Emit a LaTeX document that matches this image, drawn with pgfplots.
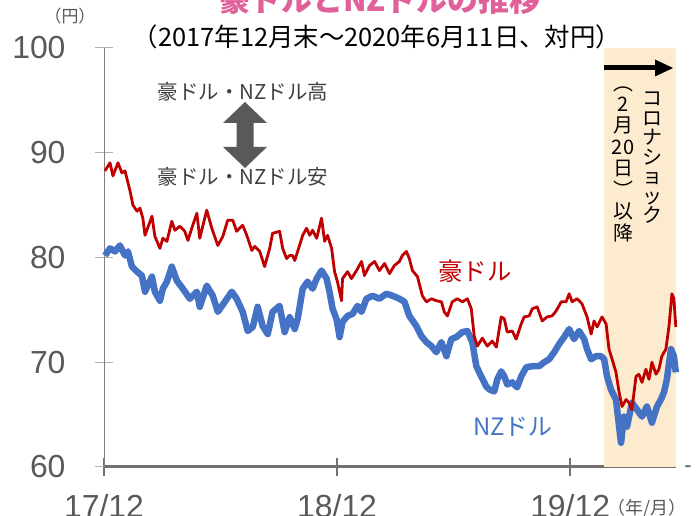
\documentclass[border=0pt]{standalone}
\usepackage{pgfplots}
\pgfplotsset{compat=1.18}
\usepackage{fontspec}
\setmainfont{Liberation Sans}
\newfontfamily\jp{Noto Sans CJK JP}
\definecolor{aud}{HTML}{C00000}
\definecolor{nzd}{HTML}{4472C4}
\definecolor{shade}{HTML}{FDEBCF}
\definecolor{titlepink}{HTML}{E0609A}
\definecolor{tickgray}{HTML}{595959}
\definecolor{axisgray}{HTML}{767171}
\definecolor{notegray}{HTML}{404040}
\definecolor{arrowgray}{HTML}{595959}
\begin{document}
\begin{tikzpicture}[x=1bp,y=1bp]
\useasboundingbox (0,0) rectangle (696,516);
\begin{axis}[
  at={(104bp,49bp)}, anchor=south west,
  scale only axis, width=572bp, height=419bp,
  xmin=0, xmax=29.45, ymin=60, ymax=100,
  clip=false,
  axis lines*=left,
  xtick={0,12,24}, xticklabels={17/12,18/12,19/12},
  ytick={60,70,80,90,100},
  tick align=center, major tick length=18bp,
  x axis line style={axisgray, line width=3bp},
  y axis line style={gray, line width=1bp},
  xtick style={axisgray, line width=1.5bp},
  ytick style={gray!60, line width=1bp},
  tick label style={font=\fontsize{32}{32}\selectfont, text=tickgray},
  /pgf/number format/assume math mode=true,
  yticklabel style={anchor=east, xshift=-26bp},
  xticklabel style={anchor=north, yshift=-15bp},
]
\addplot[draw=none, fill=shade] coordinates {(25.75,60) (25.75,100) (29.45,100) (29.45,60)};
\addplot[nzd, line width=6.5bp, line join=round] coordinates {
(0.05,80.19) (0.31,80.87) (0.57,80.58) (0.82,81.15) (1.08,80.19) (1.23,80.58)
(1.44,79.13) (1.70,78.65) (1.95,78.27) (2.11,76.73) (2.47,78.17) (2.62,76.73)
(2.88,75.87) (3.03,77.02) (3.24,77.69) (3.49,79.13) (3.75,77.79) (4.06,77.02)
(4.42,76.06) (4.78,76.73) (4.93,75.29) (5.29,77.31) (5.60,76.35) (5.86,74.81)
(6.22,75.77) (6.58,76.73) (6.83,76.06) (7.14,74.81) (7.40,72.98) (7.66,73.37)
(7.91,75.29) (8.17,73.46) (8.43,72.69) (8.68,74.81) (9.04,75.38) (9.30,72.88)
(9.56,74.30) (9.82,73.17) (9.97,74.13) (10.23,77.02) (10.48,77.69) (10.74,77.02)
(10.95,77.98) (11.20,78.75) (11.46,77.98) (11.61,76.73) (11.77,75.10) (11.97,74.13)
(12.13,72.40) (12.28,73.85) (12.54,74.42) (12.80,74.62) (13.05,75.38) (13.26,74.81)
(13.51,76.06) (13.82,76.35) (14.18,76.06) (14.54,76.54) (14.85,76.35) (15.21,76.06)
(15.47,75.77) (15.72,74.42) (16.08,73.46) (16.34,72.50) (16.60,71.92) (16.86,71.54)
(17.11,70.96) (17.37,71.92) (17.63,70.58) (17.88,72.21) (18.14,72.40) (18.45,72.88)
(18.71,72.98) (18.96,71.92) (19.17,69.62) (19.42,68.65) (19.68,67.69) (19.84,67.40)
(20.09,67.21) (20.25,68.37) (20.45,69.13) (20.61,68.65) (20.76,67.88) (21.02,68.08)
(21.27,67.60) (21.48,68.65) (21.74,69.52) (22.05,69.62) (22.40,69.62) (22.66,70.00)
(22.92,70.29) (23.18,70.96) (23.43,71.73) (23.69,72.40) (23.95,73.17) (24.20,72.21)
(24.46,72.98) (24.72,72.21) (24.87,71.25) (25.08,70.29) (25.33,70.58) (25.59,70.58)
(25.75,70.29) (25.90,68.65) (26.10,67.40) (26.36,66.44) (26.52,63.85) (26.62,62.31)
(26.77,64.81) (26.93,63.85) (27.18,66.15) (27.44,65.48) (27.70,64.81) (27.95,65.77)
(28.21,64.23) (28.47,65.77) (28.67,66.44) (28.83,67.12) (28.98,68.37) (29.19,71.25)
(29.34,70.58) (29.44,69.04)
};
\addplot[aud, line width=2.8bp, line join=round] coordinates {
(0.05,88.27) (0.31,89.04) (0.46,87.79) (0.72,89.04) (0.92,88.08) (1.08,88.27)
(1.34,86.35) (1.49,85.00) (1.70,84.42) (1.85,84.71) (2.00,83.75) (2.11,82.12)
(2.47,83.94) (2.62,82.02) (2.88,80.87) (3.03,81.83) (3.24,81.54) (3.49,83.46)
(3.65,82.60) (3.91,82.98) (4.16,82.50) (4.32,81.63) (4.52,82.79) (4.78,84.23)
(4.93,81.83) (5.29,84.52) (5.55,82.79) (5.86,81.15) (6.12,82.02) (6.37,83.56)
(6.63,83.56) (6.83,82.50) (7.14,83.08) (7.35,82.12) (7.61,80.67) (7.76,81.06)
(8.02,80.58) (8.27,79.13) (8.53,80.87) (8.68,82.31) (9.04,82.50) (9.20,80.87)
(9.40,79.90) (9.56,80.19) (9.71,80.19) (9.82,79.71) (9.97,80.58) (10.23,82.12)
(10.43,82.79) (10.59,82.12) (10.74,82.60) (10.95,81.83) (11.20,83.75) (11.36,81.54)
(11.51,82.12) (11.72,80.87) (11.87,78.65) (12.02,77.69) (12.23,75.87) (12.28,77.98)
(12.54,78.65) (12.74,77.98) (13.00,78.75) (13.26,79.62) (13.41,78.27) (13.67,79.23)
(13.93,79.62) (14.18,78.75) (14.44,79.42) (14.70,78.46) (14.95,79.23) (15.21,79.62)
(15.36,80.19) (15.57,80.58) (15.72,79.90) (15.88,78.75) (16.14,78.17) (16.39,76.35)
(16.60,75.77) (16.86,76.06) (17.11,75.87) (17.37,75.77) (17.52,74.81) (17.68,74.42)
(17.93,75.77) (18.19,76.06) (18.45,75.77) (18.71,76.06) (18.91,75.10) (19.06,72.50)
(19.22,71.54) (19.48,72.30) (19.73,71.54) (19.99,72.02) (20.20,71.44) (20.45,74.33)
(20.61,74.13) (20.76,72.88) (21.02,72.98) (21.22,72.21) (21.48,73.65) (21.63,74.33)
(21.89,74.42) (22.05,75.10) (22.30,75.29) (22.56,73.94) (22.82,74.33) (23.07,74.42)
(23.28,74.90) (23.54,75.77) (23.79,75.77) (23.95,76.54) (24.10,75.77) (24.36,76.06)
(24.61,75.58) (24.87,74.33) (25.08,72.69) (25.23,73.94) (25.39,73.37) (25.64,74.33)
(25.85,73.65) (26.00,71.25) (26.16,70.29) (26.36,69.04) (26.52,67.12) (26.67,65.77)
(26.88,66.44) (27.03,66.15) (27.18,65.48) (27.39,68.65) (27.54,68.85) (27.70,68.08)
(27.90,69.33) (28.06,68.37) (28.21,70.00) (28.42,68.85) (28.57,69.33) (28.72,70.58)
(28.93,71.25) (29.09,73.46) (29.24,76.54) (29.34,76.06) (29.44,73.37)
};
\end{axis}
% titles
\node[anchor=base, font=\jp\bfseries\fontsize{31}{31}\selectfont, text=titlepink] at (380,504) {豪ドルとNZドルの推移};
\node[font=\jp\fontsize{25.5}{25.5}\selectfont] at (377,479) {（2017年12月末～2020年6月11日、対円）};
\node[font=\jp\fontsize{17}{17}\selectfont, text=tickgray] at (70,500) {（円）};
\node[anchor=west, font=\jp\fontsize{18}{18}\selectfont, text=tickgray] at (604,8) {（年/月）};
\node[font=\fontsize{22}{22}\selectfont, text=tickgray] at (688,47) {-};
% annotations
\node[font=\jp\fontsize{20.5}{20.5}\selectfont, text=notegray] at (243,424) {豪ドル・NZドル高};
\node[font=\jp\fontsize{20.5}{20.5}\selectfont, text=notegray] at (243,339) {豪ドル・NZドル安};
\fill[arrowgray] (245,414) -- (267,393) -- (253.5,393) -- (253.5,369) -- (267,369) -- (245,348) -- (223,369) -- (236.5,369) -- (236.5,393) -- (223,393) -- cycle;
\fill[black] (604,445.5) rectangle (657,450.5);
\fill[black] (655,456.5) -- (673,448) -- (655,439.5) -- cycle;
\node[align=center, font=\jp\fontsize{20}{19.6}\selectfont] at (652,358) {コ\\ロ\\ナ\\シ\\ョ\\ッ\\ク};
\node[align=center, font=\jp\fontsize{20}{21.5}\selectfont] at (623,352) {︵\\2\\月\\20\\日\\︶\\以\\降};
\node[font=\jp\fontsize{24.5}{24.5}\selectfont, text=aud] at (475,245) {豪ドル};
\node[font=\jp\fontsize{24}{24}\selectfont, text=nzd] at (513,89) {NZドル};
\end{tikzpicture}
\end{document}
